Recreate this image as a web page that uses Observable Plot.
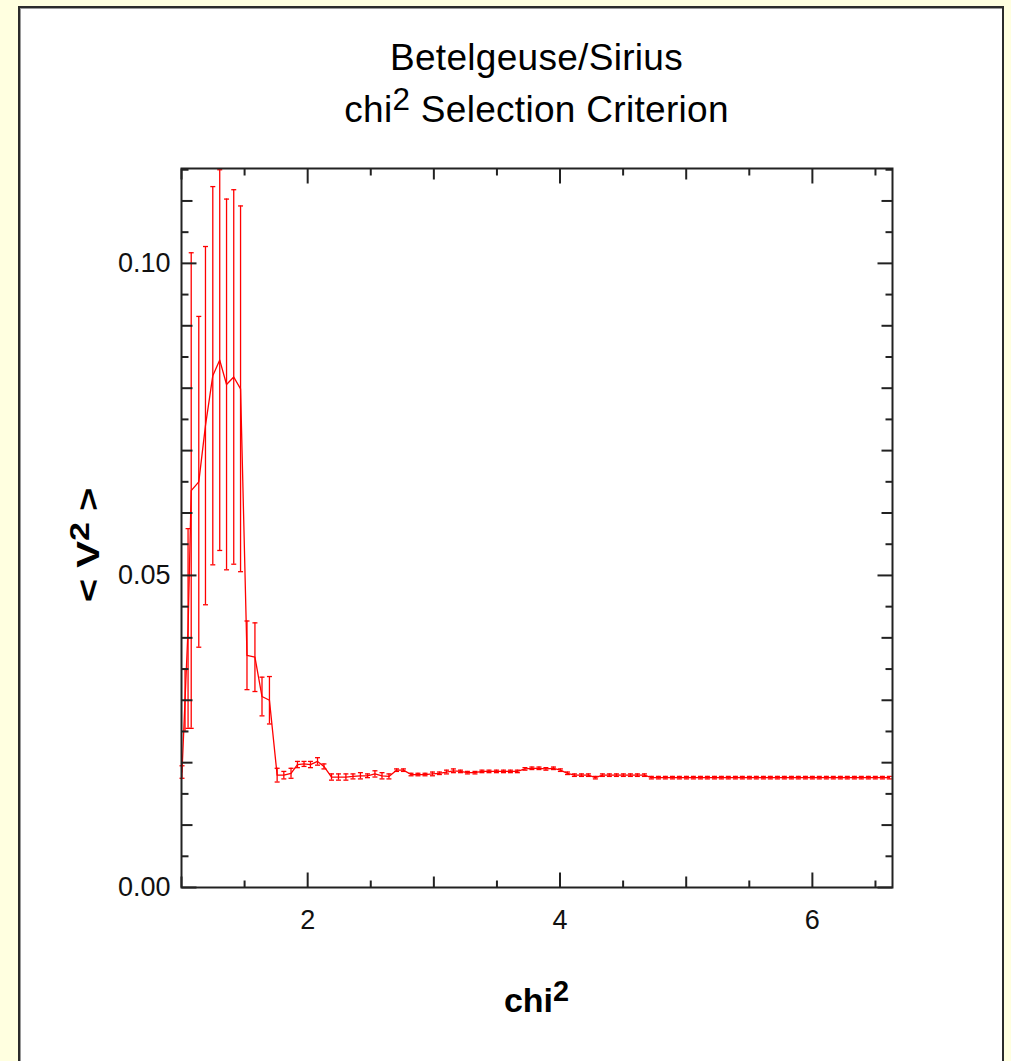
<!DOCTYPE html>
<html>
<head>
<meta charset="utf-8">
<script src="https://cdn.jsdelivr.net/npm/d3@7"></script>
<script src="https://cdn.jsdelivr.net/npm/@observablehq/plot@0.6"></script>
<style>
  html, body { margin: 0; padding: 0; background: #FFFFE0; }
  body { width: 1011px; height: 1061px; position: relative; overflow: hidden;
         font-family: "Liberation Sans", Arial, sans-serif; color: #000; }
  #panel { position: absolute; left: 18px; top: 6px; width: 982px; height: 1100px;
           background: #fff; border: 2px solid #2b2b2b; box-shadow: inset 1px 1px 0 #9a9a9a; }
  .t { position: absolute; left: 181px; width: 711px; text-align: center;
       font-size: 37px; line-height: 37px; white-space: nowrap; letter-spacing: 0.3px; }
  .sup { font-size: 0.85em; position: relative; top: -0.38em; }
  #xlabel { position: absolute; left: 181px; width: 711px; top: 983px; text-align: center;
            font-size: 34px; line-height: 34px; font-weight: bold; }
  #ylabel { position: absolute; left: -12px; top: 527px; width: 200px; height: 36px;
            text-align: center; font-size: 32px; line-height: 36px; font-weight: bold;
            transform: rotate(-90deg) scaleX(1.25); transform-origin: 50% 50%; white-space: nowrap; }
  #chart { position: absolute; left: 0; top: 0; }
</style>
</head>
<body>
<div id="panel"></div>
<div class="t" style="top:39px">Betelgeuse/Sirius</div>
<div class="t" style="top:91px">chi<span class="sup">2</span> Selection Criterion</div>
<div id="chart"></div>
<div id="xlabel">chi<span class="sup">2</span></div>
<div id="ylabel">&lt; V<span class="sup">2</span> &gt;</div>
<script>
// ---- data ----
const chi2 = [1.004, 1.028, 1.052, 1.077, 1.137, 1.190, 1.248, 1.303, 1.357, 1.414,
  1.468, 1.519, 1.582, 1.638, 1.697, 1.758, 1.811, 1.868, 1.919, 1.971,
  2.022, 2.078, 2.129, 2.189, 2.244, 2.303, 2.359, 2.418, 2.474, 2.533,
  2.589, 2.644, 2.704, 2.759, 2.819, 2.874, 2.930, 2.989, 3.044, 3.100,
  3.155, 3.211, 3.266, 3.326, 3.381, 3.437, 3.496, 3.552, 3.607, 3.662,
  3.722, 3.777, 3.833, 3.888, 3.948, 4.003, 4.059, 4.114, 4.170, 4.225,
  4.280, 4.336, 4.391, 4.447, 4.502, 4.558, 4.613, 4.669, 4.724, 4.780,
  4.835, 4.891, 4.946, 5.002, 5.057, 5.113, 5.168, 5.224, 5.279, 5.334,
  5.390, 5.445, 5.501, 5.556, 5.612, 5.667, 5.723, 5.778, 5.834, 5.889,
  5.945, 6.000, 6.055, 6.111, 6.166, 6.222, 6.277, 6.333, 6.388, 6.444,
  6.499, 6.555, 6.610];

const meanV2 = [0.0185, 0.0300, 0.0415, 0.0636, 0.0650, 0.0740, 0.0820, 0.0845, 0.0806, 0.0818,
  0.0799, 0.0372, 0.0369, 0.0306, 0.0300, 0.0180, 0.0180, 0.0183, 0.0197, 0.0198,
  0.0197, 0.0202, 0.0194, 0.0177, 0.0177, 0.0177, 0.0178, 0.0179, 0.0179, 0.0182,
  0.0179, 0.0178, 0.0188, 0.0188, 0.0181, 0.0181, 0.0181, 0.0182, 0.0183, 0.0185,
  0.0187, 0.0186, 0.0184, 0.0184, 0.0186, 0.0186, 0.0186, 0.0186, 0.0186, 0.0186,
  0.0190, 0.0191, 0.0191, 0.0190, 0.0191, 0.0188, 0.0183, 0.0180, 0.0180, 0.0180,
  0.0176, 0.0180, 0.0180, 0.0180, 0.0180, 0.0180, 0.0180, 0.0180, 0.0176, 0.0176,
  0.0176, 0.0176, 0.0176, 0.0176, 0.0176, 0.0176, 0.0176, 0.0176, 0.0176, 0.0176,
  0.0176, 0.0176, 0.0176, 0.0176, 0.0176, 0.0176, 0.0176, 0.0176, 0.0176, 0.0176,
  0.0176, 0.0176, 0.0176, 0.0176, 0.0176, 0.0176, 0.0176, 0.0176, 0.0176, 0.0176,
  0.0176, 0.0176, 0.0176];

const errV2 = [0.0010, 0.0050, 0.0160, 0.0381, 0.0265, 0.0287, 0.0303, 0.0305, 0.0297, 0.0300,
  0.0293, 0.0055, 0.0055, 0.0031, 0.0038, 0.0011, 0.0006, 0.0008, 0.0005, 0.0004,
  0.0005, 0.0006, 0.0004, 0.0005, 0.0005, 0.0005, 0.0004, 0.0005, 0.0003, 0.0005,
  0.0005, 0.0004, 0.0002, 0.0002, 0.0002, 0.0002, 0.0002, 0.0003, 0.0002, 0.0003,
  0.0003, 0.0002, 0.0002, 0.0002, 0.0002, 0.0002, 0.0002, 0.0002, 0.0002, 0.0002,
  0.0002, 0.0002, 0.0002, 0.0002, 0.0002, 0.0002, 0.0002, 0.0002, 0.0002, 0.0002,
  0.0002, 0.0002, 0.0002, 0.0002, 0.0002, 0.0002, 0.0002, 0.0002, 0.0002, 0.0002,
  0.0002, 0.0002, 0.0002, 0.0002, 0.0002, 0.0002, 0.0002, 0.0002, 0.0002, 0.0002,
  0.0002, 0.0002, 0.0002, 0.0002, 0.0002, 0.0002, 0.0002, 0.0002, 0.0002, 0.0002,
  0.0002, 0.0002, 0.0002, 0.0002, 0.0002, 0.0002, 0.0002, 0.0002, 0.0002, 0.0002,
  0.0002, 0.0002, 0.0002];

const xDomain = [1.0, 6.635];
const yDomain = [0, 0.1152];
const xTicksMajor = [2, 4, 6];
const xTicksMedium = [1, 3, 5];
const xTicksMinor = [1.5, 2.5, 3.5, 4.5, 5.5, 6.5];
const yTicksMajor = [0, 0.05, 0.10];
const yTicksMedium = [0.01, 0.02, 0.03, 0.04, 0.06, 0.07, 0.08, 0.09, 0.11];
const yTicksMinor = [0.005, 0.015, 0.025, 0.035, 0.045, 0.055, 0.065, 0.075, 0.085, 0.095, 0.105, 0.115];

// ---- build ----
const data = chi2.map((x, i) => ({x, y: meanV2[i], lo: meanV2[i] - errV2[i], hi: meanV2[i] + errV2[i]}));

const segSym = (dx, dy) => ({draw(ctx) { ctx.moveTo(0, 0); ctx.lineTo(dx, dy); }});
const capSym = {draw(ctx) { ctx.moveTo(-2.5, 0); ctx.lineTo(2.5, 0); }};

const RED = "#ff0000";
const AX = "#222";
const L = {major: 15, medium: 11, minor: 7};

function tickMarks(vals, len, axis) {
  const s = {stroke: AX, strokeWidth: 2, fill: "none"};
  if (axis === "x") {
    return [
      Plot.dot(vals, {...s, x: d => d, y: () => yDomain[0], symbol: segSym(0, -len)}),
      Plot.dot(vals, {...s, x: d => d, y: () => yDomain[1], symbol: segSym(0, len)})
    ];
  }
  return [
    Plot.dot(vals, {...s, y: d => d, x: () => xDomain[0], symbol: segSym(len, 0)}),
    Plot.dot(vals, {...s, y: d => d, x: () => xDomain[1], symbol: segSym(-len, 0)})
  ];
}

const chart = Plot.plot({
  width: 1011,
  height: 1061,
  marginLeft: 181,
  marginRight: 119,
  marginTop: 168,
  marginBottom: 174,
  style: {background: "transparent", fontFamily: "'Liberation Sans', Arial, sans-serif", color: "#111"},
  x: {domain: xDomain},
  y: {domain: yDomain},
  marks: [
    Plot.ruleX(data, {x: "x", y1: "lo", y2: "hi", stroke: RED, strokeWidth: 1.3}),
    Plot.dot(data, {x: "x", y: "hi", symbol: capSym, stroke: RED, strokeWidth: 1.3, fill: "none"}),
    Plot.dot(data, {x: "x", y: "lo", symbol: capSym, stroke: RED, strokeWidth: 1.3, fill: "none"}),
    Plot.line(data, {x: "x", y: "y", stroke: RED, strokeWidth: 1.3}),
    ...tickMarks(xTicksMajor, L.major, "x"),
    ...tickMarks(xTicksMedium, L.medium, "x"),
    ...tickMarks(xTicksMinor, L.minor, "x"),
    ...tickMarks(yTicksMajor, L.major, "y"),
    ...tickMarks(yTicksMedium, L.medium, "y"),
    ...tickMarks(yTicksMinor, L.minor, "y"),
    Plot.axisX(xTicksMajor, {anchor: "bottom", tickSize: 0, tickPadding: 22, fontSize: 27, label: null, tickFormat: d => String(d)}),
    Plot.axisY(yTicksMajor, {anchor: "left", tickSize: 0, tickPadding: 11, fontSize: 27, label: null, tickFormat: d3.format(".2f")}),
    Plot.frame({stroke: AX, strokeWidth: 2})
  ]
});
document.getElementById("chart").appendChild(chart);
</script>
</body>
</html>
